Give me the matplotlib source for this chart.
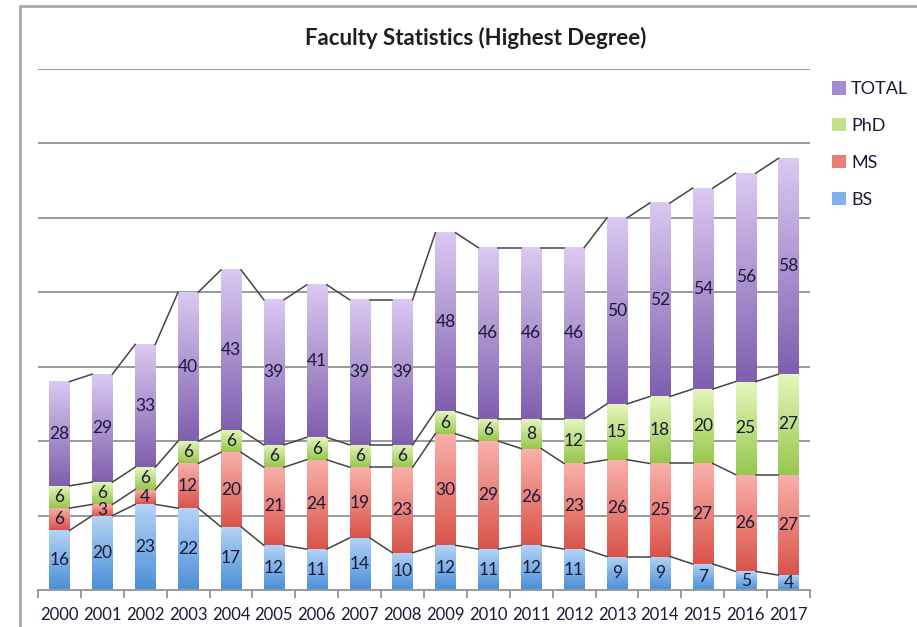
import numpy as np
import matplotlib
matplotlib.use("Agg")
from matplotlib import pyplot as plt
from matplotlib.patches import Patch, Rectangle
from matplotlib.colors import LinearSegmentedColormap

years = [str(y) for y in range(2000, 2018)]
bs = [16, 20, 23, 22, 17, 12, 11, 14, 10, 12, 11, 12, 11, 9, 9, 7, 5, 4]
ms = [6, 3, 4, 12, 20, 21, 24, 19, 23, 30, 29, 26, 23, 26, 25, 27, 26, 27]
phd = [6, 6, 6, 6, 6, 6, 6, 6, 6, 6, 6, 8, 12, 15, 18, 20, 25, 27]
total = [28, 29, 33, 40, 43, 39, 41, 39, 39, 48, 46, 46, 46, 50, 52, 54, 56, 58]

series = [("BS", bs, "#b4d4f7", "#4b8fd6"),
          ("MS", ms, "#fab0ab", "#d9544b"),
          ("PhD", phd, "#e6f6bd", "#97c74c"),
          ("TOTAL", total, "#dbc9f1", "#7f5fae")]

plt.rcParams['font.family'] = ['Lato', 'DejaVu Sans']
fig = plt.figure(figsize=(9.17, 6.27), dpi=100)
ax = fig.add_axes([38/917, 37/627, 772/917, 521/627])

x = np.arange(len(years))
w = 0.47
grad = np.linspace(1, 0, 100).reshape(-1, 1)
bottom = np.zeros(len(years))
for name, vals, c_top, c_bot in series:
    cmap = LinearSegmentedColormap.from_list(name, [c_bot, c_top])
    vals = np.array(vals, dtype=float)
    for i in range(len(years)):
        ax.imshow(grad, cmap=cmap, aspect='auto', zorder=2,
                  extent=(x[i] - w/2, x[i] + w/2, bottom[i], bottom[i] + vals[i]),
                  interpolation='bilinear', vmin=0, vmax=1)
        ax.text(x[i], bottom[i] + vals[i]/2, str(int(vals[i])), ha='center', va='center',
                fontsize=12.5, color='#1a1a38', zorder=4)
    top = bottom + vals
    # series lines between bars
    for i in range(len(years) - 1):
        ax.plot([x[i] + w/2, x[i+1] - w/2], [top[i], top[i+1]],
                color='#444444', lw=1.1, zorder=3)
    bottom = top

ax.set_xlim(-0.5, len(years) - 0.5)
ax.set_ylim(0, 140)
ax.set_yticks(np.arange(20, 141, 20))
ax.yaxis.grid(True, color='#9a9a9a', lw=1.4)
ax.set_axisbelow(True)
ax.tick_params(axis='y', left=False, labelleft=False)
ax.set_xticks(x)
ax.set_xticklabels(years, fontsize=12, color='#1a1a38')
ax.tick_params(axis='x', which='major', length=0, pad=12)
ax.set_xticks(np.arange(-0.5, len(years)), minor=True)
ax.tick_params(axis='x', which='minor', length=6, color='#9a9a9a', width=1.4)
for s in ['top', 'right', 'left']:
    ax.spines[s].set_visible(False)
ax.spines['bottom'].set_color('#9a9a9a')
ax.spines['bottom'].set_linewidth(1.4)

fig.text(476/917, 1 - 38/627, "Faculty Statistics (Highest Degree)", ha='center', va='center',
         fontsize=16, fontweight='bold', color='#1f1f1f')

handles = [Patch(facecolor=c, edgecolor='none', label=n) for n, c in
           [("TOTAL", "#a48ad0"), ("PhD", "#c3e28a"), ("MS", "#ea7d75"), ("BS", "#7fb2ea")]]
fig.legend(handles=handles, loc='upper left', bbox_to_anchor=(816/917, 1 - 65/627),
           frameon=False, fontsize=13, labelspacing=1.15, handlelength=0.75,
           handleheight=0.75, handletextpad=0.3, labelcolor='#1a1a38')

# chart frame
fig.add_artist(Rectangle((20/917, -0.1), 1.2, 1 - 6/627 + 0.1, transform=fig.transFigure,
                         fill=False, edgecolor='#aaaaaa', lw=2))

fig.savefig("out.png", dpi=100)
